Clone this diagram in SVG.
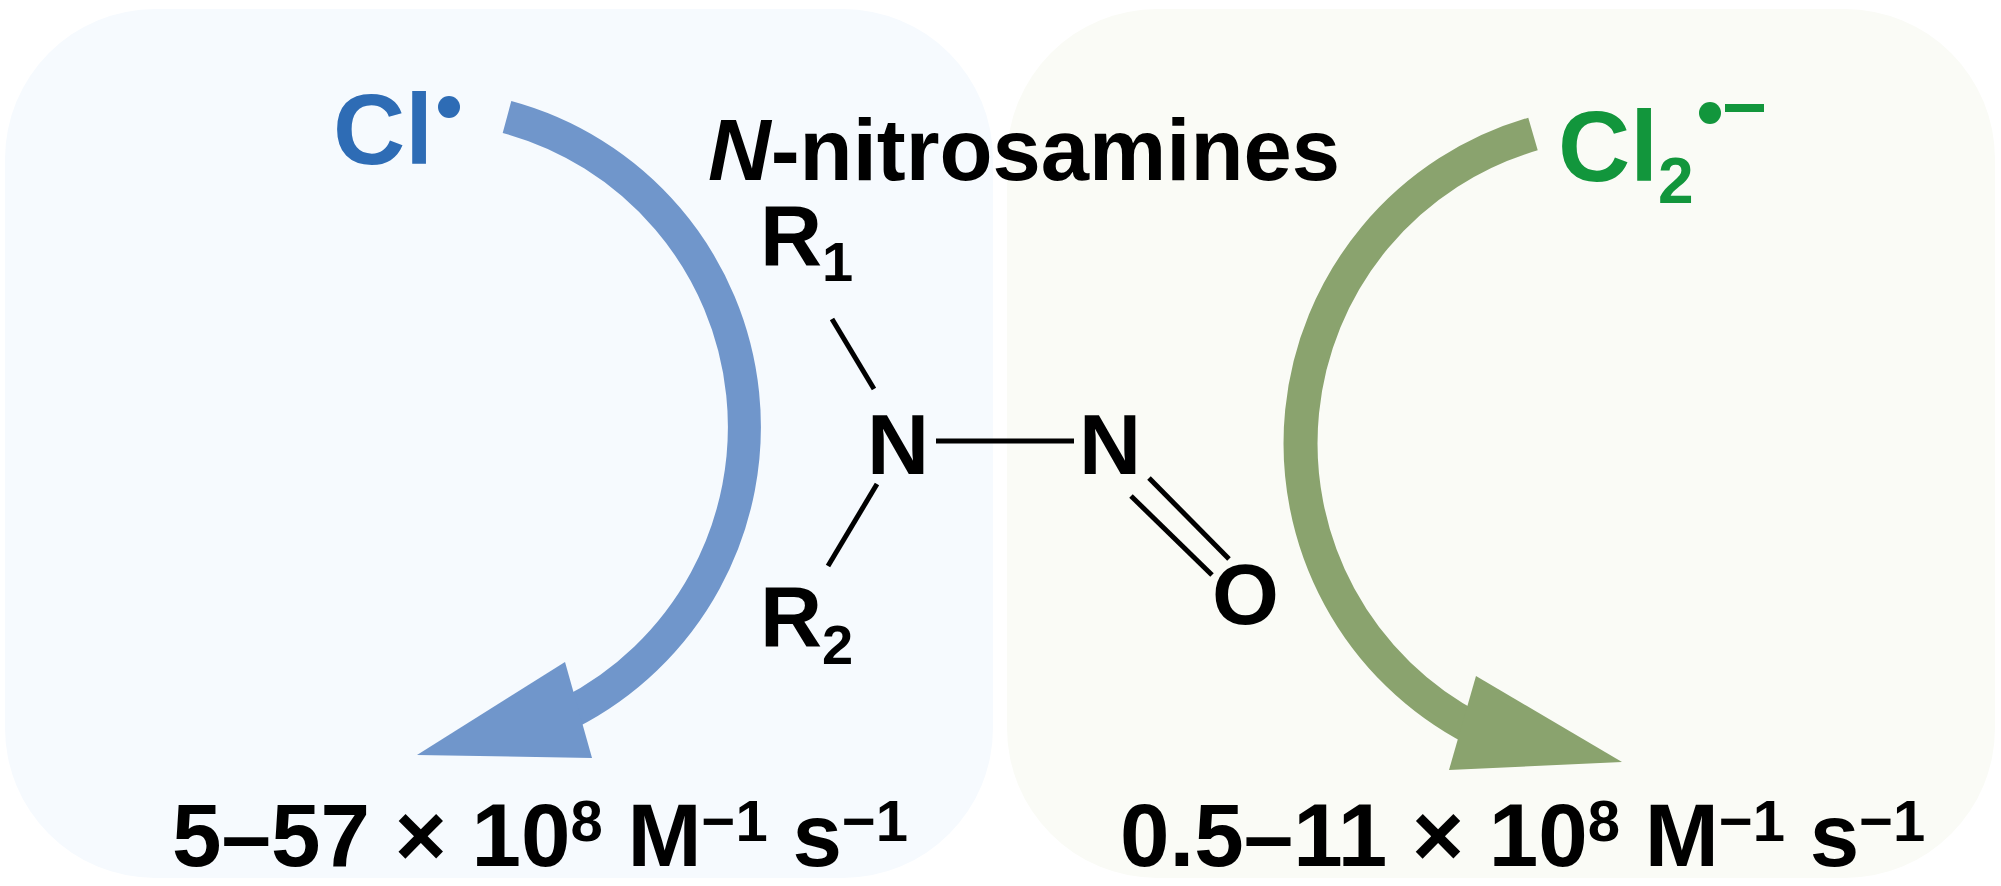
<svg xmlns="http://www.w3.org/2000/svg" width="2001" height="886" viewBox="0 0 2001 886">
  <style>
    .t { font-family: "Liberation Sans", Arial, Helvetica, sans-serif; font-weight: bold; }
    .blk { fill: #000000; }
    .bond { stroke: #000000; stroke-width: 5; stroke-linecap: butt; fill: none; }
    .arcB { fill: none; stroke: #7096cb; stroke-width: 33; stroke-linecap: butt; }
    .arcG { fill: none; stroke: #8aa36e; stroke-width: 34; stroke-linecap: butt; }
    .headB { fill: #7096cb; }
    .headG { fill: #8aa36e; }
    .rate { font-size: 89px; }
    .sup { font-size: 58px; }
  </style>
  <rect width="2001" height="886" fill="#ffffff"/>
  <g id="panel-left">
    <rect x="5" y="9" width="988" height="869" rx="150" ry="150" fill="#f6fafe"/>
  </g>
  <g id="panel-right">
    <rect x="1007" y="9" width="988" height="869" rx="150" ry="150" fill="#fafbf6"/>
  </g>

  <g id="connectors">
    <path class="arcB" d="M 507 117 A 321 321 0 0 1 569 713"/>
    <polygon class="headB" points="417,755 565,662 592,758"/>
    <path class="arcG" d="M 1533 134 A 322 322 0 0 0 1474 729"/>
    <polygon class="headG" points="1622,762 1476,676 1449,770"/>
  </g>

  <g id="node-cl-radical">
    <text class="t" x="333" y="164" font-size="100" fill="#2e6cb5">Cl</text>
    <circle cx="449" cy="107" r="11" fill="#2e6cb5"/>
  </g>

  <g id="node-cl2-radical">
    <text class="t" x="1558" y="181" font-size="100" fill="#12963c">Cl<tspan font-size="64" dy="22">2</tspan></text>
    <circle cx="1710" cy="113" r="11" fill="#12963c"/>
    <rect x="1725" y="104" width="39" height="8" fill="#12963c"/>
  </g>

  <g id="node-nitrosamine">
    <text class="t blk" x="708" y="180" font-size="87" textLength="632" lengthAdjust="spacingAndGlyphs"><tspan font-style="italic">N</tspan>-nitrosamines</text>
    <text class="t blk" x="760" y="265" font-size="86">R<tspan font-size="56" dy="16">1</tspan></text>
    <text class="t blk" x="760" y="646" font-size="86">R<tspan font-size="56" dy="18">2</tspan></text>
    <text class="t blk" x="867" y="474" font-size="86">N</text>
    <text class="t blk" x="1079" y="474" font-size="86">N</text>
    <text class="t blk" x="1212" y="624" font-size="86">O</text>
    <line class="bond" x1="832" y1="319" x2="874" y2="389"/>
    <line class="bond" x1="877" y1="484" x2="828" y2="566"/>
    <line class="bond" x1="936" y1="441" x2="1074" y2="441"/>
    <line class="bond" x1="1149" y1="478" x2="1229" y2="559"/>
    <line class="bond" x1="1131" y1="496" x2="1212" y2="575"/>
  </g>

  <g id="label-rate-cl">
    <text class="t blk rate" x="172" y="866">5–57 × 10<tspan class="sup" dy="-25">8</tspan><tspan dy="25"> M</tspan><tspan class="sup" dy="-25">−1</tspan><tspan dy="25"> s</tspan><tspan class="sup" dy="-25">−1</tspan></text>
  </g>

  <g id="label-rate-cl2">
    <text class="t blk rate" x="1120" y="866">0.5–11 × 10<tspan class="sup" dy="-25">8</tspan><tspan dy="25"> M</tspan><tspan class="sup" dy="-25">−1</tspan><tspan dy="25"> s</tspan><tspan class="sup" dy="-25">−1</tspan></text>
  </g>
</svg>
